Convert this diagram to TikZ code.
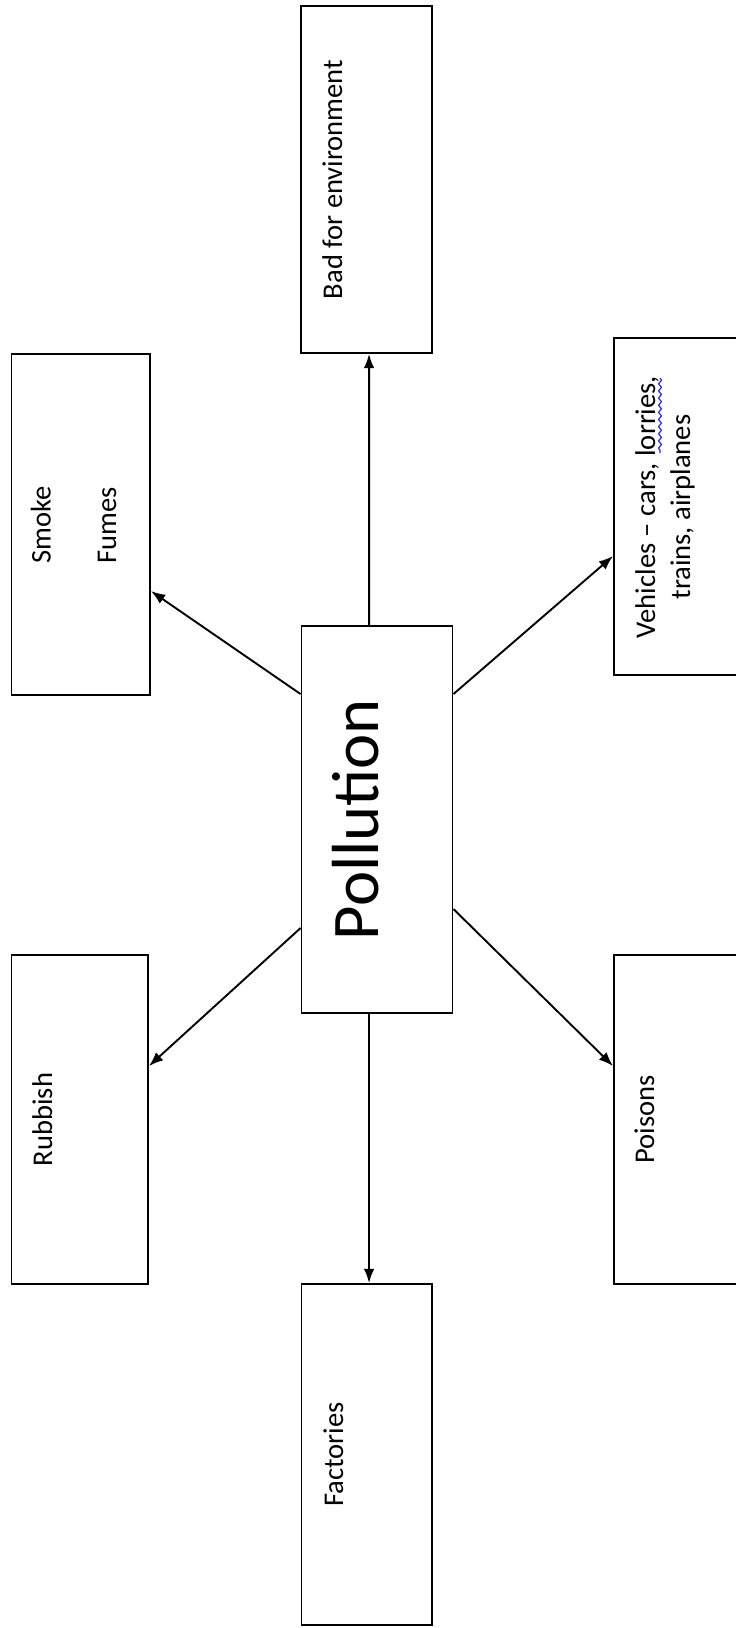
\documentclass[tikz,border=0pt]{standalone}
\usepackage{fontspec}
\setmainfont{Carlito}
\usetikzlibrary{arrows.meta,calc,fit,decorations.pathmorphing}
\tikzset{
  box/.style={draw, line width=0.8pt, inner sep=0pt},
  lbl/.style={rotate=90, inner sep=0pt, align=center, font=\fontsize{12}{14.6}\selectfont},
  big/.style={lbl, font=\fontsize{28}{34}\selectfont},
  arr/.style={-{Latex[length=6pt,width=4.5pt]}, line width=0.8pt},
  spell/.style={draw=blue!85!white, line width=0.5pt, decorate,
    decoration={snake, segment length=3pt, amplitude=0.6pt}}
}
\begin{document}
\begin{tikzpicture}[x=0.42pt,y=-0.42pt]
  \useasboundingbox (0,0) rectangle (735,1628);
  \node[box, fit={(301,6) (432,353)}] (bad) {};
  \node[box, fit={(11.5,354) (150,695)}] (smoke) {};
  \node[box, fit={(301.5,626) (452.5,1013)}] (poll) {};
  \node[box, fit={(614,338) (760,675)}] (veh) {};
  \node[box, fit={(11.5,955) (148,1284)}] (rub) {};
  \node[box, fit={(301.5,1284) (432,1625)}] (fact) {};
  \node[box, fit={(614,955) (760,1284)}] (pois) {};

  \node[lbl, anchor=base] (badtxt) at (342,179.5) {Bad for environment};
  \node[lbl] (smoketxt) at (73.5,525) {Smoke\\[12.9pt]Fumes};
  \node[big, anchor=base] (polltxt) at (378,819.5) {Pollution};
  \node[lbl] (vehtxt) at (665,507) {Vehicles -- cars, lorries,\\trains, airplanes};
  \node[lbl, anchor=base] (rubtxt) at (52,1119.5) {Rubbish};
  \node[lbl, anchor=base] (facttxt) at (343,1454.5) {Factories};
  \node[lbl, anchor=base] (poistxt) at (654,1119.5) {Poisons};
  \draw[spell] (660,378) -- (660,453);

  \begin{scope}[arr]
    \draw ($(poll.north west)+(68.5,0)$) -- ($(bad.south west)+(69,0)$);
    \draw ($(poll.north west)+(0,69)$) -- ($(smoke.north east)+(0,238)$);
    \draw ($(poll.north east)+(0,69)$) -- ($(veh.north west)+(0,219)$);
    \draw ($(poll.north west)+(0,303)$) -- ($(rub.north east)+(0,112)$);
    \draw ($(poll.north east)+(0,284)$) -- ($(pois.north west)+(0,112)$);
    \draw ($(poll.south west)+(68.5,0)$) -- ($(fact.north west)+(68.5,0)$);
  \end{scope}
\end{tikzpicture}
\end{document}
